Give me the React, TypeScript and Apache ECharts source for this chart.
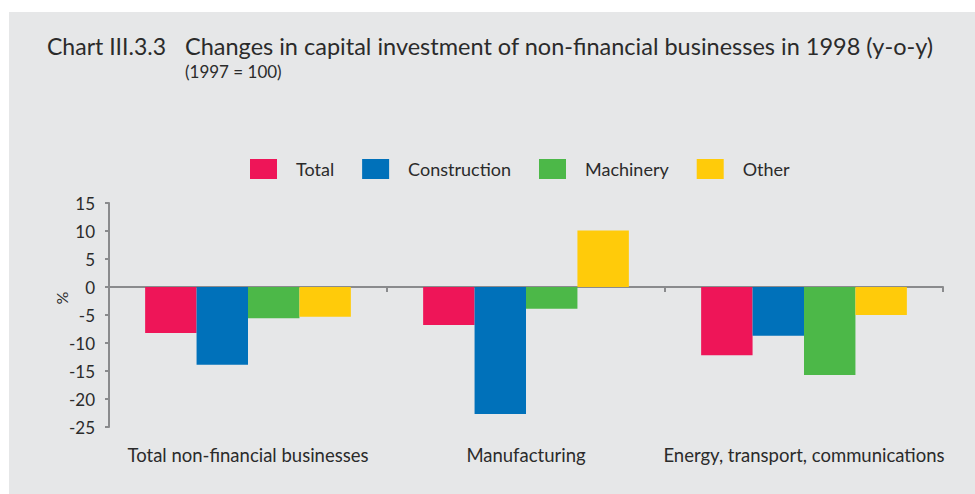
import React, { useEffect, useRef } from "react";
import * as echarts from "echarts";

const categories = ["Total non-financial businesses", "Manufacturing", "Energy, transport, communications"];
const tickSlots = ["", "", "", "", "", ""];
const seriesNames = ["Total", "Construction", "Machinery", "Other"];
const totalValues = [-8.2, -6.8, -12.2];
const constructionValues = [-13.9, -22.7, -8.7];
const machineryValues = [-5.6, -3.9, -15.7];
const otherValues = [-5.3, 10.1, -5.0];
const colors = ["#ee1558", "#0071ba", "#4cb848", "#ffcb0a"];

const FONT = "Lato, 'Open Sans', sans-serif";
const AXIS = "#8a8b8d";
const TEXT = "#2b2b2b";

export default function App() {
  const ref = useRef<HTMLDivElement>(null);
  useEffect(() => {
    if (!ref.current) return;
    const chart = echarts.init(ref.current, null, { renderer: "svg" });
    const values = [totalValues, constructionValues, machineryValues, otherValues];
    chart.setOption({
      animation: false,
      backgroundColor: "#ffffff",
      textStyle: { fontFamily: FONT },
      title: [
        {
          text: "Chart III.3.3",
          left: 47,
          top: 31.5,
          padding: 0,
          textStyle: { fontFamily: FONT, fontSize: 23, fontWeight: "normal", color: TEXT, lineHeight: 28 },
        },
        {
          text: "Changes in capital investment of non-financial businesses in 1998 (y-o-y)",
          subtext: "(1997 = 100)",
          left: 185,
          top: 31.5,
          padding: 0,
          itemGap: 3,
          textStyle: { fontFamily: FONT, fontSize: 23.5, fontWeight: "normal", color: TEXT, lineHeight: 28 },
          subtextStyle: { fontFamily: FONT, fontSize: 17, color: TEXT, lineHeight: 18 },
        },
      ],
      graphic: [
        {
          type: "rect",
          z: -10,
          silent: true,
          shape: { x: 9, y: 12, width: 966, height: 482 },
          style: { fill: "#e6e7e8" },
        },
        {
          type: "text",
          x: 61,
          y: 298,
          rotation: Math.PI / 2,
          style: {
            text: "%",
            fontFamily: FONT,
            fontSize: 16,
            fill: TEXT,
            align: "center",
            verticalAlign: "middle",
          },
        },
      ],
      legend: {
        left: 250,
        top: 159,
        padding: 0,
        itemWidth: 27,
        itemHeight: 20,
        itemGap: 28,
        icon: "rect",
        data: seriesNames,
        formatter: "{a|{name}}",
        textStyle: {
          fontFamily: FONT,
          fontSize: 18,
          color: TEXT,
          rich: { a: { fontFamily: FONT, fontSize: 18, color: TEXT, padding: [0, 0, 0, 14] } },
        },
      },
      grid: { left: 109, right: 32, top: 203, height: 224, containLabel: false },
      xAxis: [
        {
          type: "category",
          data: categories,
          position: "bottom",
          axisLine: { show: false, onZero: false },
          axisTick: { show: false },
          axisLabel: { margin: 18, fontFamily: FONT, fontSize: 18.5, color: TEXT, interval: 0 },
        },
        {
          type: "category",
          data: tickSlots,
          position: "bottom",
          axisLine: { show: true, onZero: true, lineStyle: { color: AXIS, width: 2 } },
          axisTick: { show: true, length: 5, lineStyle: { color: AXIS, width: 2 } },
          axisLabel: { show: false },
          splitLine: { show: false },
        },
      ],
      yAxis: {
        type: "value",
        min: -25,
        max: 15,
        interval: 5,
        axisLine: { show: true, lineStyle: { color: AXIS, width: 2 } },
        axisTick: { show: true, length: 4, lineStyle: { color: AXIS, width: 2 } },
        splitLine: { show: false },
        axisLabel: { margin: 14, fontFamily: FONT, fontSize: 17, color: TEXT },
      },
      series: seriesNames.map((name, i) => ({
        name,
        type: "bar",
        xAxisIndex: 0,
        data: values[i],
        barGap: "0%",
        barCategoryGap: "26%",
        itemStyle: { color: colors[i] },
      })),
    });
    return () => chart.dispose();
  }, []);
  return (
    <div style={{ position: "absolute", left: 0, top: 0, width: 975, height: 494 }}>
      <div ref={ref} style={{ width: 975, height: 494 }} />
    </div>
  );
}
